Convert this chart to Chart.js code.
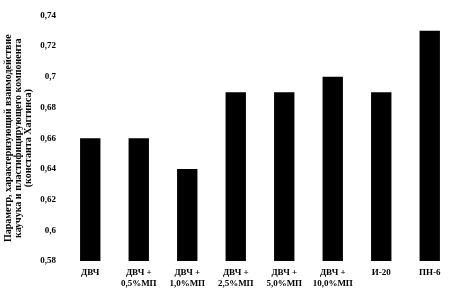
<!DOCTYPE html>
<html>
<head>
<meta charset="utf-8">
<script src="https://cdn.jsdelivr.net/npm/chart.js@4"></script>
<style>
  html, body { margin: 0; padding: 0; background: #fff; }
  #wrap { width: 454px; height: 298px; }
</style>
</head>
<body>
<div id="wrap"><canvas id="chart"></canvas></div>
<script>
const categories = [
  ['ДВЧ'],
  ['ДВЧ +', '0,5%МП'],
  ['ДВЧ +', '1,0%МП'],
  ['ДВЧ +', '2,5%МП'],
  ['ДВЧ +', '5,0%МП'],
  ['ДВЧ +', '10,0%МП'],
  ['И-20'],
  ['ПН-6']
];
const values = [0.66, 0.66, 0.64, 0.69, 0.69, 0.70, 0.69, 0.73];
const yMin = 0.58;
const yMax = 0.74;
const yStep = 0.02;
const yTitle = [
  'Параметр, характеризующий взаимодействие',
  'каучука и пластифицирующего компонента',
  '(константа Хаггинса)'
];

const font = { family: '"Liberation Serif", "DejaVu Serif", serif', size: 9, weight: 'bold' };
const titleFont = { family: '"Liberation Serif", "DejaVu Serif", serif', size: 10, weight: 'bold', lineHeight: 1.0 };

const ctx = document.getElementById('chart').getContext('2d');
new Chart(ctx, {
  type: 'bar',
  data: {
    labels: categories,
    datasets: [{
      data: values,
      backgroundColor: '#000',
      borderWidth: 0,
      barPercentage: 0.42,
      categoryPercentage: 1
    }]
  },
  options: {
    responsive: true,
    maintainAspectRatio: false,
    animation: false,
    layout: { padding: { top: 9, right: 0, left: 0, bottom: 0 } },
    plugins: {
      legend: { display: false },
      tooltip: { enabled: false }
    },
    scales: {
      x: {
        grid: { display: false, drawTicks: false },
        border: { display: false },
        ticks: {
          color: '#000',
          font: font,
          padding: 6,
          maxRotation: 0,
          autoSkip: false
        },
        afterFit: (scale) => { scale.height = 37; }
      },
      y: {
        min: yMin,
        max: yMax,
        grid: { display: false, drawTicks: false },
        border: { display: false },
        ticks: {
          stepSize: yStep,
          color: '#000',
          font: font,
          padding: 10,
          callback: (v) => Number(v.toFixed(2)).toString().replace('.', ',')
        },
        title: {
          display: true,
          text: yTitle,
          color: '#000',
          font: titleFont,
          padding: { top: 3, bottom: 0 }
        },
        afterFit: (scale) => { scale.width = 66; }
      }
    }
  }
});
</script>
</body>
</html>
